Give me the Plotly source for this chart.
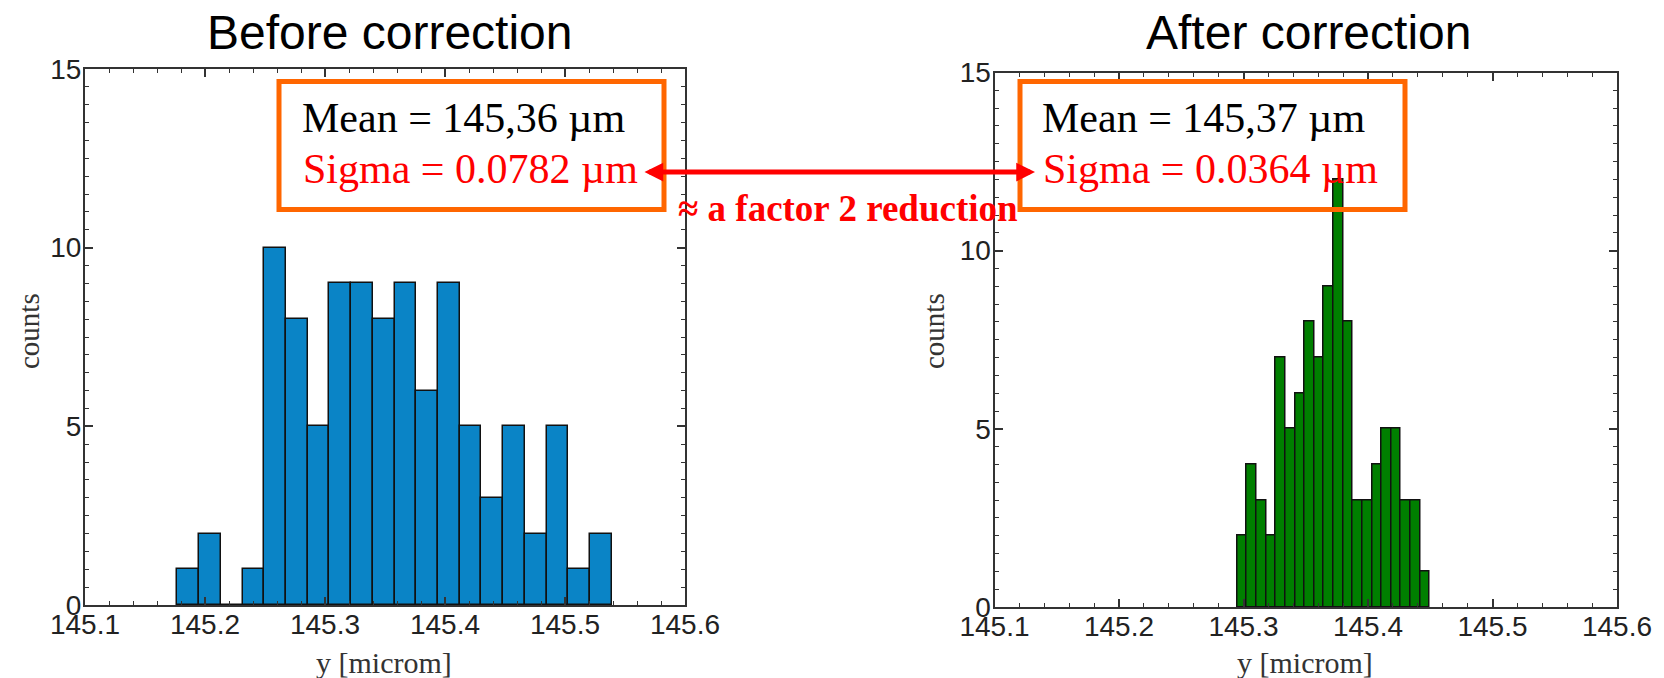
import numpy as np
import plotly.graph_objects as go

W, H = 1664, 678

# ---------------- data ----------------
x_tick_vals = [145.1, 145.2, 145.3, 145.4, 145.5, 145.6]
x_tick_text = ["145.1", "145.2", "145.3", "145.4", "145.5", "145.6"]
y_tick_vals = [0, 5, 10, 15]
y_tick_text = ["0", "5", "10", "15"]

before_bin_start = 145.177
before_bin_width = 0.0181
before_counts = [1, 2, 0, 1, 10, 8, 5, 9, 9, 8, 9, 6, 9, 5, 3, 5, 2, 5, 1, 2]

after_bin_start = 145.295
after_bin_width = 0.00773
after_counts = [2, 4, 3, 2, 7, 5, 6, 8, 7, 9, 12, 8, 3, 3, 4, 5, 5, 3, 3, 1]

titles = ["Before correction", "After correction"]
before_stats = ["Mean = 145,36 µm", "Sigma = 0.0782 µm"]
after_stats = ["Mean = 145,37 µm", "Sigma = 0.0364 µm"]
arrow_text = "≈ a factor 2 reduction"
x_title = "y [microm]"
y_title = "counts"

# ---------------- helpers ----------------
def px_x(x):
    return x / W

def px_y(y):
    return 1 - y / H

def centers(start, width, n):
    return start + (np.arange(n) + 0.5) * width

SANS = "Liberation Sans, Arial, sans-serif"
SERIF = "Liberation Serif, Times New Roman, serif"
AX = "#333333"

fig = go.Figure()
fig.add_trace(go.Bar(
    x=centers(before_bin_start, before_bin_width, len(before_counts)),
    y=before_counts, width=before_bin_width,
    marker=dict(color="#0A84C6", line=dict(color="#111111", width=1.5)),
    xaxis="x", yaxis="y", showlegend=False))
fig.add_trace(go.Bar(
    x=centers(after_bin_start, after_bin_width, len(after_counts)),
    y=after_counts, width=after_bin_width,
    marker=dict(color="#007F00", line=dict(color="#111111", width=1.5)),
    xaxis="x2", yaxis="y2", showlegend=False))

def xaxis_style(domain, anchor):
    return dict(domain=domain, anchor=anchor, range=[145.1, 145.6],
                tickvals=x_tick_vals, ticktext=x_tick_text,
                ticks="inside", ticklen=8, tickwidth=1.5, tickcolor=AX,
                mirror="allticks", showline=True, linecolor=AX, linewidth=2,
                showgrid=False, zeroline=False, automargin=False,
                ticklabelstandoff=-7,
                minor=dict(dtick=0.02, tick0=145.1, ticks="inside", ticklen=4,
                           tickcolor=AX, tickwidth=1),
                tickfont=dict(family=SANS, size=28, color="#222222"))

def yaxis_style(domain, anchor):
    return dict(domain=domain, anchor=anchor, range=[0, 15],
                tickvals=y_tick_vals, ticktext=y_tick_text,
                ticks="inside", ticklen=8, tickwidth=1.5, tickcolor=AX,
                mirror="allticks", showline=True, linecolor=AX, linewidth=2,
                showgrid=False, zeroline=False, automargin=False,
                ticklabelstandoff=-4,
                minor=dict(dtick=0.5, tick0=0, ticks="inside", ticklen=4,
                           tickcolor=AX, tickwidth=1),
                tickfont=dict(family=SANS, size=28, color="#222222"))

ann = []
# titles
ann.append(dict(text=titles[0], x=px_x(390), y=px_y(32), xref="paper", yref="paper",
                xanchor="center", yanchor="middle", showarrow=False,
                font=dict(family=SANS, size=48, color="black")))
ann.append(dict(text=titles[1], x=px_x(1308), y=px_y(32), xref="paper", yref="paper",
                xanchor="center", yanchor="middle", showarrow=False,
                font=dict(family=SANS, size=48, color="black")))
# stats
for (lx, stats) in [(300, before_stats), (1040, after_stats)]:
    ann.append(dict(text=stats[0], x=px_x(lx), y=px_y(118), xref="paper", yref="paper",
                    xanchor="left", yanchor="middle", showarrow=False,
                    font=dict(family=SERIF, size=42, color="black")))
    ann.append(dict(text=stats[1], x=px_x(lx + 1), y=px_y(169), xref="paper", yref="paper",
                    xanchor="left", yanchor="middle", showarrow=False,
                    font=dict(family=SERIF, size=42, color="#FF0000")))
# arrow
ann.append(dict(text="", x=px_x(1035), y=px_y(172), xref="paper", yref="paper",
                ax=-(1035 - 643), ay=0, axref="pixel", ayref="pixel",
                showarrow=True, arrowside="end+start", arrowhead=2, startarrowhead=2,
                arrowwidth=5, arrowsize=0.75, startarrowsize=0.75,
                arrowcolor="#FF0000", standoff=0, startstandoff=0))
ann.append(dict(text="<b>" + arrow_text + "</b>", x=px_x(676), y=px_y(208), xref="paper",
                yref="paper", xanchor="left", yanchor="middle", showarrow=False,
                font=dict(family=SERIF, size=37, color="#FF0000")))
# axis titles
for cx in [384, 1305]:
    ann.append(dict(text=x_title, x=px_x(cx), y=px_y(662), xref="paper", yref="paper",
                    xanchor="center", yanchor="middle", showarrow=False,
                    font=dict(family=SERIF, size=30, color="#333333")))
for cx in [29, 934]:
    ann.append(dict(text=y_title, x=px_x(cx), y=px_y(331), xref="paper", yref="paper",
                    xanchor="center", yanchor="middle", showarrow=False, textangle=-90,
                    font=dict(family=SERIF, size=29, color="#333333")))

shapes = []
for (x0, x1) in [(279, 664), (1020, 1405)]:
    shapes.append(dict(type="rect", xref="paper", yref="paper",
                       x0=px_x(x0), x1=px_x(x1), y0=px_y(209.5), y1=px_y(81.5),
                       line=dict(color="#FF6600", width=5), fillcolor="rgba(0,0,0,0)"))

fig.update_layout(
    width=W, height=H, margin=dict(l=0, r=0, t=0, b=0, pad=0, autoexpand=False),
    paper_bgcolor="white", plot_bgcolor="white",
    bargap=0, barmode="overlay", showlegend=False,
    xaxis=xaxis_style([px_x(85), px_x(685)], "y"),
    yaxis=yaxis_style([px_y(605), px_y(69)], "x"),
    xaxis2=xaxis_style([px_x(994.5), px_x(1617)], "y2"),
    yaxis2=yaxis_style([px_y(607), px_y(72.5)], "x2"),
    annotations=ann, shapes=shapes,
)

fig.write_html("out.html")
